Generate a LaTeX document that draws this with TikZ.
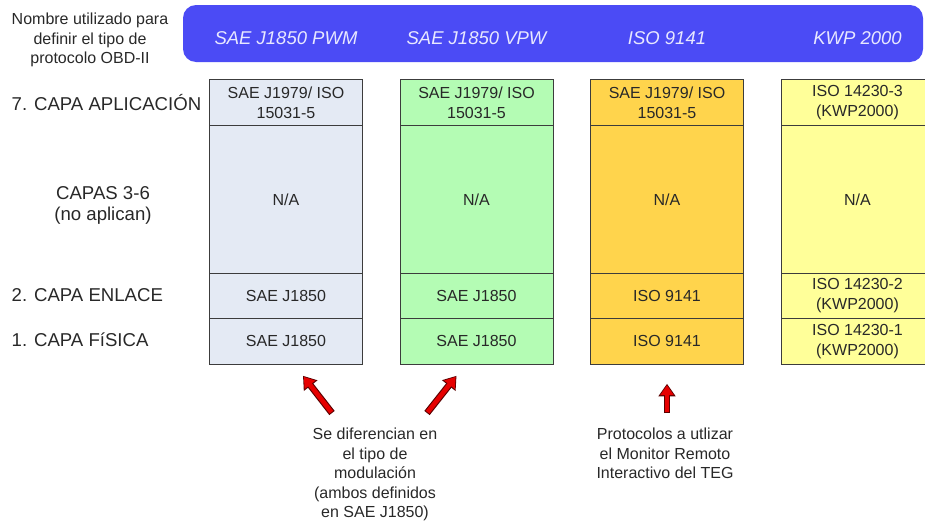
\documentclass[tikz,border=0pt]{standalone}
\usepackage{fontspec}
\setmainfont{Liberation Sans}
\usepackage{tikz}
\usetikzlibrary{arrows.meta,calc,positioning,chains}

\definecolor{bannerblue}{RGB}{75,75,245}
\definecolor{bannertext}{RGB}{232,232,255}
\definecolor{pwmfill}{RGB}{228,234,244}
\definecolor{vpwfill}{RGB}{180,252,180}
\definecolor{isofill}{RGB}{255,212,76}
\definecolor{kwpfill}{RGB}{255,255,153}
\definecolor{cellborder}{RGB}{60,60,60}
\definecolor{textgray}{RGB}{40,40,40}
\definecolor{arrowred}{RGB}{230,0,0}
\definecolor{arrowrim}{RGB}{90,0,0}

\begin{document}
\begin{tikzpicture}[
            x=1pt, y=-1pt,
            every node/.style={ inner sep=0pt, text=textgray },
            cell/.style={ draw=cellborder, line width=0.8pt, minimum width=153pt, align=center, font=\fontsize{16}{20}\selectfont },
            layer/.style={ font=\fontsize{18.6}{21}\selectfont },
            note/.style={ align=center, font=\fontsize{16}{19.5}\selectfont },
            protname/.style={ text=bannertext, font=\fontsize{18.5}{22}\selectfont\itshape },
            arrowout/.style={ draw=arrowrim, line width=6.8pt, -{Triangle[length=12.5pt,width=16.5pt]} },
            arrowin/.style={ draw=arrowred, line width=4.6pt, shorten >=1.4pt, shorten <=1pt, -{Triangle[length=10pt,width=13pt]} },
            start chain=pwm going below,
            start chain=vpw going below,
            start chain=iso going below,
            start chain=kwp going below,
            node distance=-0.8pt
        ]
        \path[use as bounding box] (0,0) rectangle (925,522);
        \clip (0,0) rectangle (925,522);

        \node[fill=bannerblue, rounded corners=13pt, minimum width=740pt, minimum height=57pt] (banner) at (553,33.5) {};

        \node[cell, on chain=pwm, fill=pwmfill, minimum height=46pt, at={(286,79)}, anchor=north] {SAE J1979/ ISO\\15031-5};
        \node[cell, on chain=pwm, fill=pwmfill, minimum height=148pt] {N/A};
        \node[cell, on chain=pwm, fill=pwmfill, minimum height=45pt ] {SAE J1850};
        \node[cell, on chain=pwm, fill=pwmfill, minimum height=46pt ] {SAE J1850};

        \node[cell, on chain=vpw, fill=vpwfill, minimum height=46pt, at={(476.5,79)}, anchor=north] {SAE J1979/ ISO\\15031-5};
        \node[cell, on chain=vpw, fill=vpwfill, minimum height=148pt] {N/A};
        \node[cell, on chain=vpw, fill=vpwfill, minimum height=45pt ] {SAE J1850};
        \node[cell, on chain=vpw, fill=vpwfill, minimum height=46pt ] {SAE J1850};

        \node[cell, on chain=iso, fill=isofill, minimum height=46pt, at={(667,79)}, anchor=north] {SAE J1979/ ISO\\15031-5};
        \node[cell, on chain=iso, fill=isofill, minimum height=148pt] {N/A};
        \node[cell, on chain=iso, fill=isofill, minimum height=45pt ] {ISO 9141};
        \node[cell, on chain=iso, fill=isofill, minimum height=46pt ] {ISO 9141};

        \node[cell, on chain=kwp, fill=kwpfill, minimum height=46pt, at={(857.5,79)}, anchor=north] {ISO 14230-3\\(KWP2000)};
        \node[cell, on chain=kwp, fill=kwpfill, minimum height=148pt] {N/A};
        \node[cell, on chain=kwp, fill=kwpfill, minimum height=45pt ] {ISO 14230-2\\(KWP2000)};
        \node[cell, on chain=kwp, fill=kwpfill, minimum height=46pt ] {ISO 14230-1\\(KWP2000)};

        \node[protname] (pwmname) at ($(pwm-1.north)+(0,-41)$) {SAE J1850 PWM};
        \node[protname] (vpwname) at ($(vpw-1.north)+(0,-41)$) {SAE J1850 VPW};
        \node[protname] (isoname) at ($(iso-1.north)+(0,-41)$) {ISO 9141};
        \node[protname] (kwpname) at ($(kwp-1.north)+(0,-41)$) {KWP 2000};

        \node[note] (obdlabel) at (90,40) {Nombre utilizado para\\definir el tipo de\\protocolo OBD-II};
        \node[layer, anchor=base west] (applayer) at (11.5,110) {7. CAPA APLICACIÓN};
        \node[layer, align=center] (midlayer) at (103,205) {CAPAS 3-6\\(no aplican)};
        \node[layer, anchor=base west] (linklayer) at (11.5,301) {2. CAPA ENLACE};
        \node[layer, anchor=base west] (phylayer) at (11.5,346) {1. CAPA FíSICA};

        \node[note, anchor=north] (modnote) at (375,428) {Se diferencian en\\el tipo de\\modulación\\(ambos definidos\\en SAE J1850)};
        \node[note, anchor=north] (tegnote) at (665,428) {Protocolos a utlizar\\el Monitor Remoto\\Interactivo del TEG};

        % flechas hacia las columnas
        \coordinate (pwmtail) at ($(modnote.north)+(-43,-15)$);
        \coordinate (pwmtip)  at ($(pwm-4.south)+(17,11)$);
        \coordinate (vpwtail) at ($(modnote.north)+(52,-15)$);
        \coordinate (vpwtip)  at ($(vpw-4.south)+(-20,11)$);
        \coordinate (isotail) at ($(tegnote.north)+(2,-15)$);
        \coordinate (isotip)  at ($(iso-4.south)+(0,19)$);

        \draw[arrowout] (pwmtail) -- (pwmtip);
        \draw[arrowin]  (pwmtail) -- (pwmtip);
        \draw[arrowout] (vpwtail) -- (vpwtip);
        \draw[arrowin]  (vpwtail) -- (vpwtip);
        \draw[arrowout] (isotail) -- (isotip);
        \draw[arrowin]  (isotail) -- (isotip);
    \end{tikzpicture}
\end{document}
